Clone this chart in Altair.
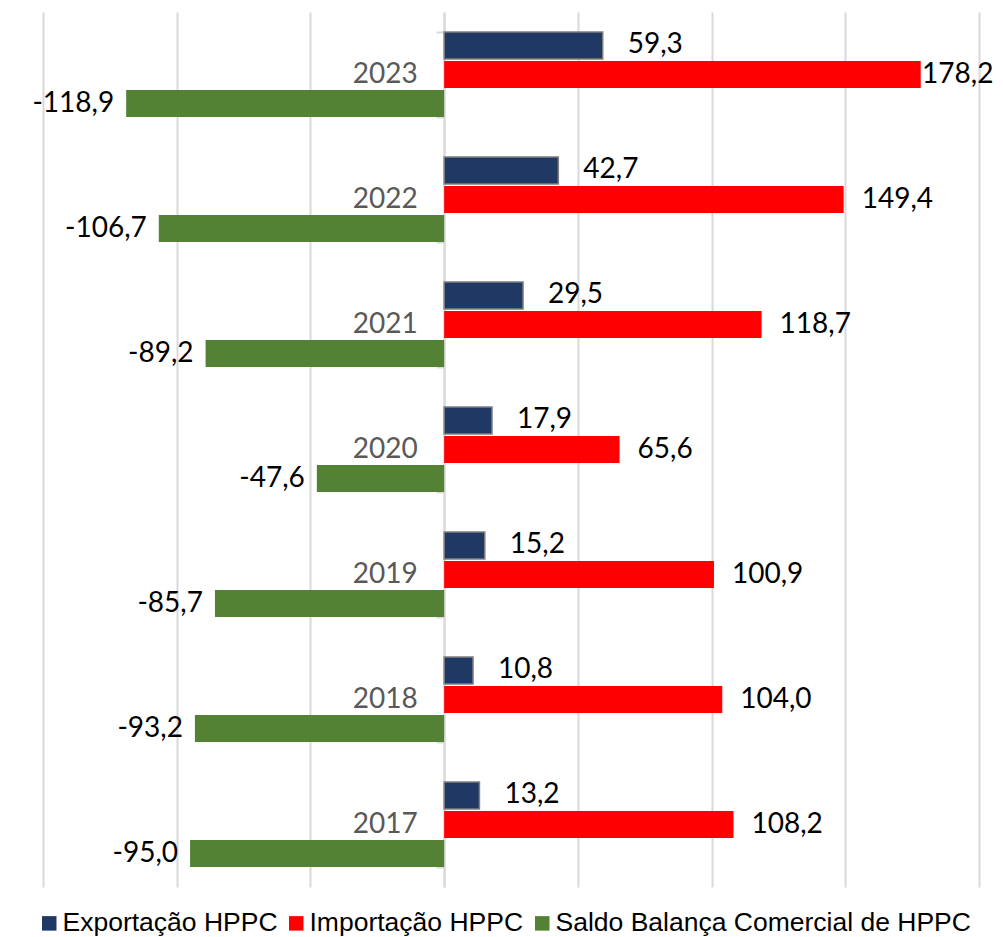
import altair as alt
import pandas as pd

years = ["2023", "2022", "2021", "2020", "2019", "2018", "2017"]
exportacao = [59.3, 42.7, 29.5, 17.9, 15.2, 10.8, 13.2]
importacao = [178.2, 149.4, 118.7, 65.6, 100.9, 104.0, 108.2]
saldo = [-118.9, -106.7, -89.2, -47.6, -85.7, -93.2, -95.0]
series = ["Exportação HPPC", "Importação HPPC", "Saldo Balança Comercial de HPPC"]
colors = ["#203864", "#FF0000", "#548235"]
grid_values = [-150, -100, -50, 0, 50, 100, 150, 200]

rows = []
for s, vals in zip(series, [exportacao, importacao, saldo]):
    for y, v in zip(years, vals):
        rows.append({"ano": y, "serie": s, "valor": v,
                     "rotulo": f"{v:.1f}".replace(".", ",")})
df = pd.DataFrame(rows)

W, H = 936, 875
xmin, xmax = -150, 200
axis_offset = -W * (0 - xmin) / (xmax - xmin)

base = alt.Chart(df).encode(
    y=alt.Y("ano:N", sort=years,
            scale=alt.Scale(domain=years, paddingInner=0.32, paddingOuter=0.16),
            axis=alt.Axis(title=None, offset=axis_offset, domainColor="#d9d9d9",
                          domainWidth=2, tickColor="#d9d9d9", tickWidth=2, tickSize=8,
                          tickBand="extent", labelFont="Lato", labelFontSize=28,
                          labelColor="#595959", labelPadding=19, grid=False,
                          labelAlign="right", labelBaseline="middle")),
    yOffset=alt.YOffset("serie:N", sort=series,
                        scale=alt.Scale(domain=series, paddingInner=0.07, paddingOuter=0)),
    x=alt.X("valor:Q",
            scale=alt.Scale(domain=[xmin, xmax], nice=False, zero=False),
            axis=alt.Axis(values=grid_values, labels=False, ticks=False, domain=False,
                          grid=True, gridColor="#d9d9d9", gridWidth=2, title=None)),
)

bars = base.mark_bar(stroke="#7f7f7f").encode(
    color=alt.Color("serie:N", sort=series,
                    scale=alt.Scale(domain=series, range=colors),
                    legend=alt.Legend(orient="none", legendX=-7, legendY=898,
                                      direction="horizontal", symbolType="square",
                                      symbolSize=210, labelFont="Liberation Sans",
                                      labelFontSize=26.5, labelColor="black", title=None,
                                      columnPadding=5, labelOffset=0, labelLimit=0,
                                      symbolStrokeWidth=0, padding=0)),
    strokeWidth=alt.condition(alt.datum.serie == series[0], alt.value(1.5), alt.value(0)),
)

txt_common = dict(baseline="middle", font="Lato", fontSize=28, color="black")
t1 = base.mark_text(align="left", dx=25, **txt_common).encode(text="rotulo:N").transform_filter(
    alt.datum.serie == series[0])
t2 = base.mark_text(align="left", dx=18, **txt_common).encode(
    text="rotulo:N", x=alt.X("xpos:Q")
).transform_filter(alt.datum.serie == series[1]).transform_calculate(
    xpos="min(datum.valor, 172)")
t3 = base.mark_text(align="right", dx=-12, **txt_common).encode(text="rotulo:N").transform_filter(
    alt.datum.serie == series[2])

chart = alt.layer(bars, t1, t2, t3).properties(
    width=W, height=H,
    autosize=alt.AutoSizeParams(type="none"),
    padding={"left": 35, "top": 4, "right": 16, "bottom": 50},
    background="white",
).configure_view(stroke=None)

chart.save("out.html", embed_options={"renderer": "svg", "actions": False})
